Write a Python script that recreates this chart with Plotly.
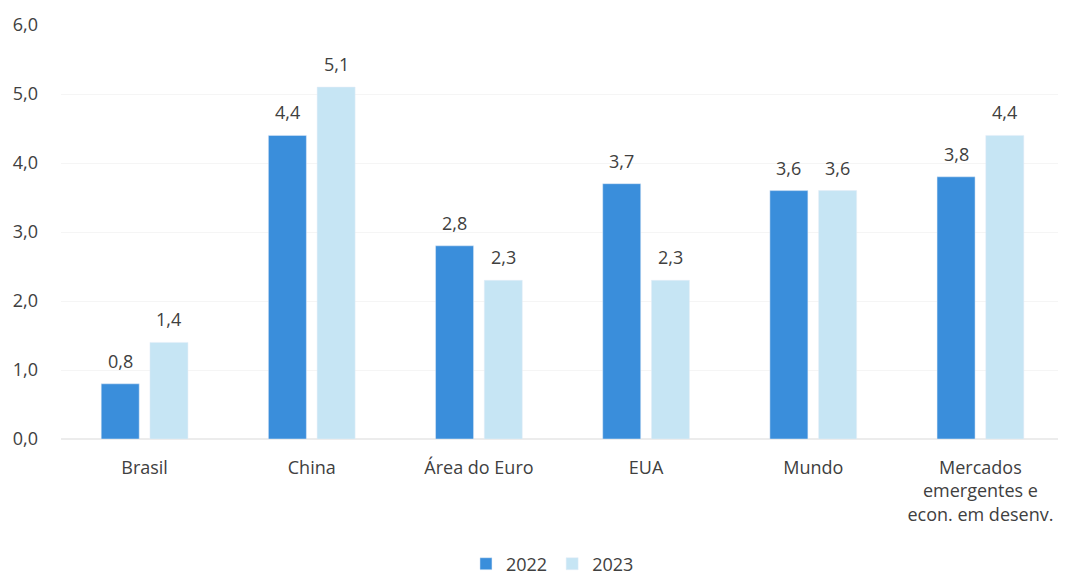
import plotly.graph_objects as go

categories = ["Brasil", "China", "Área do Euro", "EUA", "Mundo",
              "Mercados<br>emergentes e<br>econ. em desenv."]
v2022 = [0.8, 4.4, 2.8, 3.7, 3.6, 3.8]
v2023 = [1.4, 5.1, 2.3, 2.3, 3.6, 4.4]
ticks = [0, 1, 2, 3, 4, 5, 6]

def fmt(v):
    return f"{v:.1f}".replace(".", ",")

TXT = "#404040"
W, H = 1066, 578
ML, MR, MT, MB = 53, 10, 17, 147
bargap = 0.417
slot = (W - ML - MR) / len(categories)
half = slot * (1 - bargap) / 4  # offset of bar centre from category centre

fig = go.Figure()
fig.add_trace(go.Bar(name="2022", x=categories, y=v2022, marker_color="#3a8edb"))
fig.add_trace(go.Bar(name="2023", x=categories, y=v2023, marker_color="#c6e5f4"))

annotations = []
for vals, sign in ((v2022, -1), (v2023, 1)):
    for c, v in zip(categories, vals):
        annotations.append(dict(x=c, y=v, xref="x", yref="y", text=fmt(v),
                                showarrow=False, yanchor="bottom", yshift=9,
                                xshift=sign * half,
                                font=dict(size=18, color=TXT)))

fig.update_layout(
    width=W, height=H,
    margin=dict(l=ML, r=MR, t=MT, b=MB, autoexpand=False),
    paper_bgcolor="white", plot_bgcolor="white",
    font=dict(family="Open Sans, Liberation Sans, sans-serif", size=18, color=TXT),
    barmode="group", bargap=bargap, bargroupgap=0.22,
    showlegend=True,
    annotations=annotations,
    legend=dict(orientation="h", x=0.49, xanchor="center", y=-0.302, yanchor="middle",
                font=dict(size=18, color=TXT), itemwidth=30, tracegroupgap=0),
    xaxis=dict(showline=False, ticks="", automargin=False, ticklabelstandoff=16,
               tickfont=dict(size=18, color=TXT)),
    yaxis=dict(range=[0, 6], tickvals=ticks, ticktext=[fmt(t) for t in ticks],
               showgrid=True, gridcolor="#f5f5f5", zeroline=True, zerolinecolor="#ececec",
               ticks="", ticklabelstandoff=22, automargin=False,
               tickfont=dict(size=18, color=TXT)),
)
fig.write_html("out.html")
